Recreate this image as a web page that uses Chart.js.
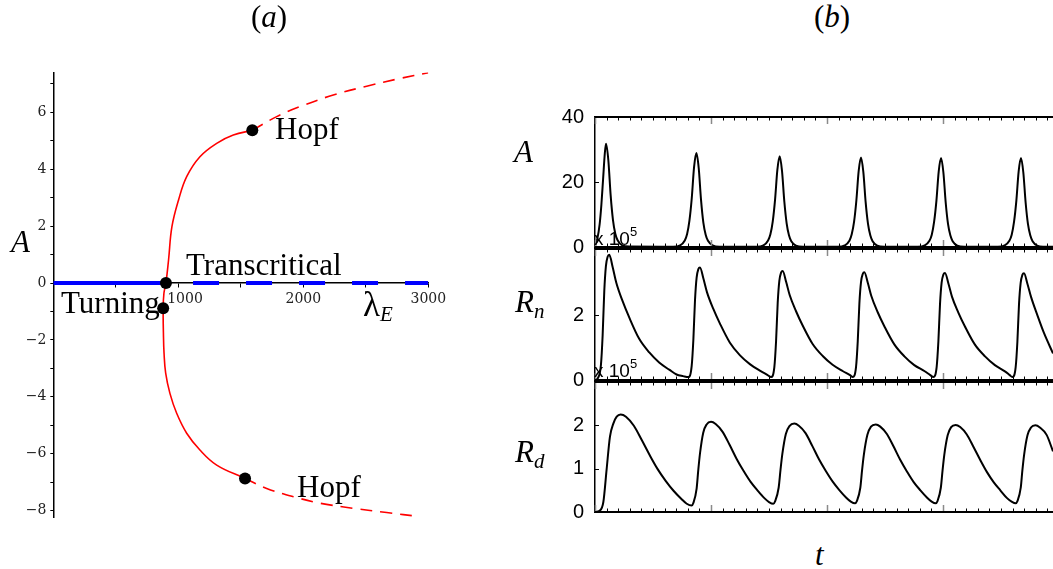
<!DOCTYPE html>
<html><head><meta charset="utf-8">
<script src="https://cdn.jsdelivr.net/npm/chart.js@4.4.1/dist/chart.umd.min.js"></script>
<style>
html,body{margin:0;padding:0;background:#fff;}
#wrap{position:relative;width:1053px;height:569px;overflow:hidden;background:#fff;}
canvas{position:absolute;}
.lbl{position:absolute;font-family:"Liberation Serif","Times New Roman",serif;line-height:1;white-space:nowrap;color:#000;}
.sub{font-size:21px;position:relative;top:6px;font-style:italic;}
.mult{position:absolute;font-family:"Liberation Sans",Arial,sans-serif;font-size:19px;line-height:1;white-space:nowrap;color:#000;}
.mult span{font-size:13px;position:relative;top:-9px;}
</style></head><body>
<div id="wrap">
<canvas id="cl" width="480" height="569" style="left:0;top:0;width:480px;height:569px"></canvas>
<canvas id="c1" width="523" height="160" style="left:530px;top:102px;width:523px;height:160px"></canvas>
<canvas id="c2" width="523" height="161" style="left:530px;top:234px;width:523px;height:161px"></canvas>
<canvas id="c3" width="523" height="160" style="left:530px;top:367px;width:523px;height:160px"></canvas>

<div class="lbl" style="left:251px;top:1px;font-size:31px">(<i>a</i>)</div>
<div class="lbl" style="left:814px;top:1px;font-size:31px">(<i>b</i>)</div>
<div class="lbl" style="left:11px;top:226px;font-size:31px"><i>A</i></div>
<div class="lbl" style="left:186px;top:249px;font-size:31px">Transcritical</div>
<div class="lbl" style="left:61px;top:287px;font-size:31px">Turning</div>
<div class="lbl" style="left:275px;top:113px;font-size:31px">Hopf</div>
<div class="lbl" style="left:297px;top:470.6px;font-size:31px">Hopf</div>
<div class="lbl" style="left:363px;top:287px;font-size:35px">λ<span class="sub" style="top:5px">E</span></div>
<div class="lbl" style="left:514px;top:136px;font-size:31px"><i>A</i></div>
<div class="lbl" style="left:515px;top:285.6px;font-size:31px"><i>R</i><span class="sub">n</span></div>
<div class="lbl" style="left:515px;top:435.6px;font-size:31px"><i>R</i><span class="sub">d</span></div>
<div class="lbl" style="left:815px;top:539px;font-size:31px"><i>t</i></div>
<div class="mult" style="left:594px;top:229px">x 10<span>5</span></div>
<div class="mult" style="left:594px;top:361px">x 10<span>5</span></div>
</div>
<script>
// ---------- Panel (a): bifurcation diagram (lambda_E, A) ----------
const stableZeroLambda = [0, 867];
const stableZeroA = [0, 0];
const unstableZeroLambda = [1118, 3000];
const unstableZeroA = [0, 0];
const redSolidLambda = [1534, 1307, 1173, 1067, 987, 933, 899, 886, 881, 879, 885, 901, 922, 949, 1002, 1067, 1173, 1307, 1440, 1592];
const redSolidA = [-6.87, -6.40, -5.87, -5.28, -4.58, -3.88, -3.17, -2.47, -1.77, -0.89, -0.36, 0, 0.81, 1.98, 2.92, 3.74, 4.44, 4.91, 5.20, 5.37];
const redUpperDashLambda = [1592, 1787, 1973, 2240, 2507, 2773, 3000];
const redUpperDashA = [5.37, 5.85, 6.20, 6.61, 6.92, 7.19, 7.39];
const redLowerDashLambda = [1534, 1707, 1920, 2133, 2400, 2667, 2933];
const redLowerDashA = [-6.87, -7.22, -7.51, -7.74, -7.92, -8.07, -8.21];
const specialLambda = [1592, 1534, 901, 879];
const specialA = [5.37, -6.87, 0, -0.89];
const lambdaLabels = [1000, 2000, 3000];

// ---------- Panel (b): time series ----------
const tA = [0, 0.2, 0.4, 0.55, 0.7, 0.85, 0.95, 1.15, 1.35, 1.55, 1.75, 1.95, 2.35, 2.95,
 6.74, 7.34, 7.74, 7.94, 8.14, 8.34, 8.54, 8.74, 8.94, 9.14, 9.34, 9.54, 9.74, 10.14, 10.74,
 13.92, 14.52, 14.92, 15.12, 15.32, 15.52, 15.72, 15.92, 16.12, 16.32, 16.52, 16.72, 16.92, 17.32, 17.92,
 20.93, 21.53, 21.93, 22.13, 22.33, 22.53, 22.73, 22.93, 23.13, 23.33, 23.53, 23.73, 23.93, 24.33, 24.93,
 27.83, 28.43, 28.83, 29.03, 29.23, 29.43, 29.63, 29.83, 30.03, 30.23, 30.43, 30.63, 30.83, 31.23, 31.83,
 34.72, 35.32, 35.72, 35.92, 36.12, 36.32, 36.52, 36.72, 36.92, 37.12, 37.32, 37.52, 37.72, 38.12, 38.72, 39.48];
const valA = [0.3, 2.5, 7, 13, 21, 29, 31.8, 26.7, 15.9, 8.3, 4.1, 2.1, 0.5, 0.13,
 0.1, 0.5, 2.0, 4.0, 8.1, 15.0, 24.6, 28.9, 24.3, 14.5, 7.5, 3.8, 1.9, 0.5, 0.1,
 0.1, 0.5, 2.0, 3.9, 7.8, 14.5, 23.7, 27.9, 23.4, 14.0, 7.3, 3.6, 1.8, 0.45, 0.1,
 0.1, 0.5, 1.9, 3.9, 7.7, 14.3, 23.4, 27.5, 23.1, 13.8, 7.2, 3.6, 1.8, 0.45, 0.1,
 0.1, 0.5, 1.9, 3.8, 7.7, 14.2, 23.3, 27.4, 23.0, 13.7, 7.1, 3.6, 1.8, 0.45, 0.1,
 0.1, 0.5, 1.9, 3.8, 7.7, 14.2, 23.3, 27.4, 23.0, 13.7, 7.1, 3.6, 1.8, 0.45, 0.1, 0.05];
const tRn = [0, 0.23, 0.51, 0.66, 0.80, 0.94, 1.09, 1.23, 1.53, 1.83, 2.38, 2.95, 3.81, 4.68, 5.53, 6.43, 7.03, 7.6, 8.05,
 8.33, 8.48, 8.62, 8.76, 8.91, 9.05, 9.35, 9.65, 10.2, 10.77, 11.63, 12.5, 13.35, 14.25, 14.85, 15.18,
 15.46, 15.61, 15.75, 15.89, 16.04, 16.18, 16.48, 16.78, 17.33, 17.9, 18.76, 19.63, 20.48, 21.38, 21.98, 22.22,
 22.50, 22.65, 22.79, 22.93, 23.08, 23.22, 23.52, 23.82, 24.37, 24.94, 25.8, 26.67, 27.52, 28.42, 28.9, 29.17,
 29.45, 29.60, 29.74, 29.88, 30.03, 30.17, 30.47, 30.77, 31.32, 31.89, 32.75, 33.62, 34.47, 35.37, 35.75, 35.98,
 36.26, 36.41, 36.55, 36.69, 36.84, 36.98, 37.28, 37.58, 38.13, 38.7, 39.48];
const valRn = [0, 0.05, 0.46, 1.39, 2.74, 3.51, 3.80, 3.86, 3.47, 3.01, 2.43, 1.93, 1.27, 0.85, 0.54, 0.31, 0.17, 0.12, 0.09,
 0.42, 1.25, 2.46, 3.16, 3.42, 3.47, 3.12, 2.71, 2.19, 1.74, 1.15, 0.76, 0.49, 0.28, 0.16, 0.09,
 0.40, 1.21, 2.39, 3.06, 3.31, 3.36, 3.02, 2.62, 2.12, 1.68, 1.11, 0.74, 0.47, 0.27, 0.15, 0.09,
 0.40, 1.20, 2.36, 3.02, 3.27, 3.32, 2.99, 2.59, 2.09, 1.66, 1.10, 0.73, 0.46, 0.27, 0.15, 0.09,
 0.40, 1.19, 2.34, 3.00, 3.25, 3.30, 2.97, 2.57, 2.08, 1.65, 1.09, 0.73, 0.46, 0.26, 0.15, 0.09,
 0.39, 1.18, 2.34, 2.99, 3.24, 3.29, 2.96, 2.57, 2.0, 1.45, 0.82];
const tRd = [0, 0.4, 0.72, 1.0, 1.29, 1.58, 1.87, 2.21, 2.67, 3.35, 4.03, 4.72, 5.40, 6.09, 6.77, 7.45, 7.91, 8.33,
 8.48, 8.76, 8.90, 9.05, 9.33, 9.62, 10.0, 10.4, 11.0, 11.6, 12.2, 12.8, 13.4, 14.0, 14.6, 15.0, 15.37,
 15.53, 15.83, 15.99, 16.15, 16.45, 16.76, 17.18, 17.57, 18.15, 18.74, 19.32, 19.91, 20.49, 21.08, 21.66, 22.05, 22.41,
 22.57, 22.87, 23.02, 23.18, 23.48, 23.79, 24.2, 24.59, 25.16, 25.74, 26.32, 26.9, 27.47, 28.05, 28.63, 29.02, 29.37,
 29.52, 29.81, 29.96, 30.11, 30.4, 30.7, 31.09, 31.48, 32.05, 32.63, 33.21, 33.79, 34.36, 34.94, 35.52, 35.91, 36.26,
 36.41, 36.70, 36.84, 36.99, 37.28, 37.58, 37.96, 38.35, 38.93, 39.48];
const valRd = [0, 0.03, 0.23, 0.98, 1.74, 2.04, 2.2, 2.25, 2.20, 1.99, 1.66, 1.31, 0.99, 0.72, 0.49, 0.30, 0.19, 0.15,
 0.21, 0.54, 0.96, 1.35, 1.83, 2.02, 2.08, 2.03, 1.85, 1.55, 1.23, 0.95, 0.70, 0.50, 0.32, 0.23, 0.19,
 0.25, 0.56, 0.97, 1.34, 1.80, 1.98, 2.04, 1.99, 1.82, 1.52, 1.21, 0.94, 0.70, 0.50, 0.33, 0.24, 0.20,
 0.25, 0.56, 0.96, 1.33, 1.78, 1.97, 2.02, 1.97, 1.80, 1.51, 1.20, 0.93, 0.69, 0.50, 0.33, 0.24, 0.20,
 0.25, 0.56, 0.96, 1.32, 1.77, 1.96, 2.01, 1.96, 1.79, 1.50, 1.20, 0.92, 0.69, 0.50, 0.32, 0.24, 0.20,
 0.25, 0.56, 0.96, 1.32, 1.77, 1.95, 2.0, 1.95, 1.78, 1.4];
const tMax = 39.48;
const ticksA = [0, 20, 40];
const ticksRn = [0, 2];
const ticksRd = [0, 1, 2];

const pairs = (xs, ys) => xs.map((x, i) => ({x: x, y: ys[i]}));
const minus = v => (v < 0 ? '\u2212' + (-v) : String(v));

Chart.defaults.animation = false;
Chart.defaults.responsive = false;
Chart.defaults.devicePixelRatio = 1;
Chart.defaults.events = [];
Chart.defaults.plugins.legend.display = false;
Chart.defaults.plugins.tooltip.enabled = false;

// Left chart
new Chart(document.getElementById('cl'), {
  type: 'scatter',
  data: {datasets: [
    {data: pairs(specialLambda, specialA), showLine: false, pointRadius: 6, pointBackgroundColor: '#000', pointBorderColor: '#000', pointBorderWidth: 0},
    {data: pairs(redSolidLambda, redSolidA), showLine: true, borderColor: '#ff0000', borderWidth: 1.6, tension: 0.4, pointRadius: 0},
    {data: pairs(redUpperDashLambda, redUpperDashA), showLine: true, borderColor: '#ff0000', borderWidth: 1.6, borderDash: [12, 8], tension: 0.35, pointRadius: 0},
    {data: pairs(redLowerDashLambda, redLowerDashA), showLine: true, borderColor: '#ff0000', borderWidth: 1.6, borderDash: [12, 8], tension: 0.35, pointRadius: 0},
    {data: pairs(stableZeroLambda, stableZeroA), showLine: true, borderColor: '#0000ff', borderWidth: 4, pointRadius: 0},
    {data: pairs(unstableZeroLambda, unstableZeroA), showLine: true, borderColor: '#0000ff', borderWidth: 4, borderDash: [26, 27], pointRadius: 0}
  ]},
  options: {
    layout: {padding: {left: 0, right: 51.7, top: 72.5, bottom: 51.3}},
    scales: {
      x: {type: 'linear', min: 0, max: 3000, position: {y: 0},
        border: {display: true, color: '#000', width: 1.5},
        grid: {drawOnChartArea: false, drawTicks: true, tickLength: 4, color: '#000', lineWidth: 1},
        ticks: {stepSize: 500, autoSkip: false, maxRotation: 0, padding: 4, color: '#222',
          font: {family: 'DejaVu Serif', size: 14},
          callback: v => (lambdaLabels.includes(v) ? (v === 1000 ? '   ' + v : String(v)) : '')}},
      y: {type: 'linear', min: -8.25, max: 7.4, position: 'left',
        afterFit: s => { s.width = 53.3; },
        border: {display: true, color: '#000', width: 1.5},
        grid: {drawOnChartArea: false, tickLength: 3, color: '#000', lineWidth: 1},
        ticks: {stepSize: 1, autoSkip: false, includeBounds: false, padding: 4, color: '#222',
          font: {family: 'DejaVu Serif', size: 14},
          callback: v => (v % 2 === 0 ? minus(v) : '')}}
    }
  }
});

// Right panels frame/ticks plugin
const framePlugin = {
  id: 'frame',
  afterDatasetsDraw(chart, args, opts) {
    const {ctx, chartArea: a, scales: {x, y}} = chart;
    ctx.save();
    ctx.lineCap = 'butt';
    for (let v = 0; v <= x.max; v += 1) {
      const px = Math.round(x.getPixelForValue(v)) + 0.5;
      const major = v % 10 === 0;
      ctx.strokeStyle = major ? '#8a8a8a' : '#000';
      ctx.lineWidth = major ? 1.5 : 1;
      const L = major ? 7 : 3.5;
      ctx.beginPath();
      ctx.moveTo(px, a.top); ctx.lineTo(px, a.top + L);
      ctx.moveTo(px, a.bottom); ctx.lineTo(px, a.bottom - L);
      ctx.stroke();
    }
    ctx.strokeStyle = '#000'; ctx.lineWidth = 1;
    for (const v of opts.inner) {
      const py = Math.round(y.getPixelForValue(v)) + 0.5;
      ctx.beginPath(); ctx.moveTo(a.left, py); ctx.lineTo(a.left + 4, py); ctx.stroke();
    }
    ctx.strokeStyle = '#000'; ctx.lineWidth = 2;
    ctx.beginPath();
    ctx.moveTo(a.left, a.top); ctx.lineTo(a.right, a.top);
    ctx.moveTo(a.left, a.bottom); ctx.lineTo(a.right, a.bottom);
    ctx.stroke();
    ctx.restore();
  }
};

function panel(id, ts, vs, yMax, step, labels, inner) {
  new Chart(document.getElementById(id), {
    type: 'scatter',
    data: {datasets: [{data: pairs(ts, vs), showLine: true, borderColor: '#000', borderWidth: 2,
      pointRadius: 0, cubicInterpolationMode: 'monotone'}]},
    options: {
      layout: {padding: {left: 0, right: 0, top: 14, bottom: 14}},
      scales: {
        x: {type: 'linear', min: 0, max: tMax, display: false},
        y: {type: 'linear', min: 0, max: yMax, position: 'left',
          afterFit: s => { s.width = 65; },
          border: {display: true, color: '#000', width: 1.5},
          grid: {display: false},
          ticks: {stepSize: step, autoSkip: false, includeBounds: false, padding: 3, color: '#000',
            font: {family: 'Liberation Sans', size: 20},
            callback: v => (labels.includes(v) ? String(v) : '')}}
      },
      plugins: {frame: {inner: inner}}
    },
    plugins: [framePlugin]
  });
}
panel('c1', tA, valA, 40, 20, ticksA, [20]);
panel('c2', tRn, valRn, 4.04, 2, ticksRn, [2]);
panel('c3', tRd, valRd, 3.0, 1, ticksRd, [1, 2]);
</script>
</body></html>
